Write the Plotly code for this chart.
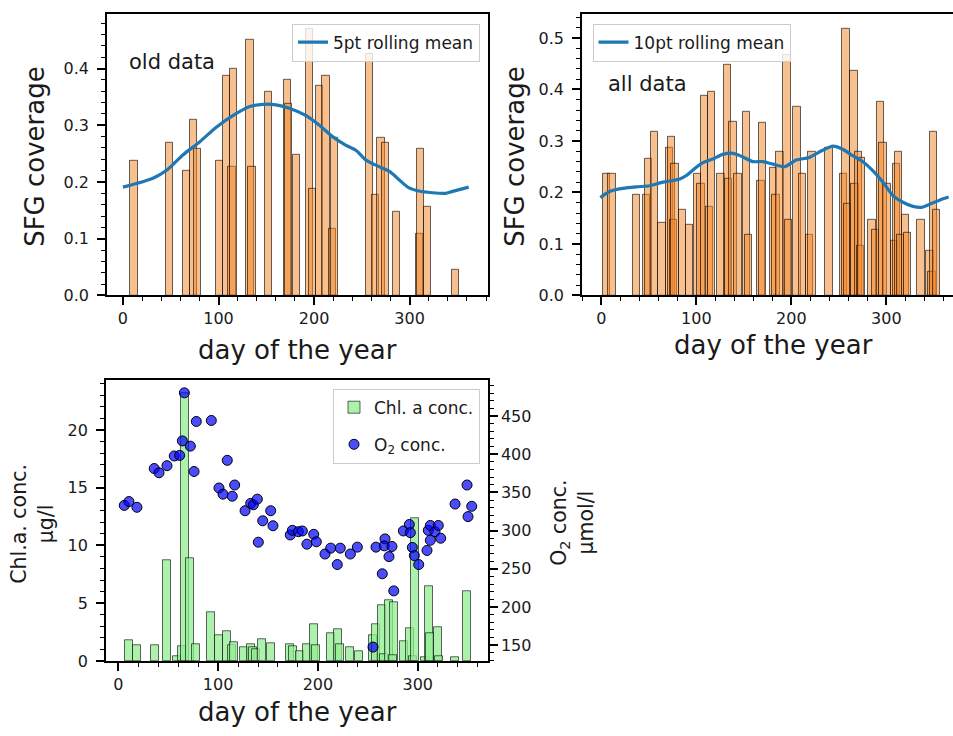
import plotly.graph_objects as go

W, H = 953, 736

# ---------------- data ----------------
old_days = [11.5, 49, 66.7, 74, 78, 100.7, 108.7, 114, 116, 133, 135, 152, 172, 173, 181.6,
            195, 198, 205.6, 212.5, 219, 221, 258, 264, 270, 275, 286, 310, 311, 319, 348]
old_sfg = [0.238, 0.269, 0.219, 0.309, 0.258, 0.238, 0.388, 0.227, 0.399, 0.45, 0.227, 0.359,
           0.38, 0.338, 0.248, 0.47, 0.188, 0.369, 0.388, 0.117, 0.278, 0.426, 0.178, 0.278,
           0.269, 0.148, 0.108, 0.258, 0.157, 0.046]

old_roll_days = [0, 21.5, 32, 46, 63, 80.5, 98, 115, 132.6, 146.5, 160, 174, 191.7, 205.6, 219.4,
                 233, 243.75, 254, 268, 278.5, 289, 299, 309.7, 323.6, 337.5, 344, 361.8]
old_roll = [0.191, 0.201, 0.207, 0.221, 0.248, 0.271, 0.297, 0.317, 0.333, 0.337, 0.336, 0.33,
            0.317, 0.3, 0.28, 0.265, 0.256, 0.239, 0.227, 0.219, 0.204, 0.19, 0.184, 0.181,
            0.18, 0.183, 0.191]

all_days = [5.6, 11.2, 36.8, 47.5, 49.5, 55.8, 64, 72, 73.7, 76, 77.5, 85.6, 93, 101, 105, 109,
            114, 116, 126, 133, 134, 138.6, 144, 152.6, 155, 168, 170,
            181, 184, 188, 195.4, 197, 206, 212, 219, 221.8, 239.6, 255, 257.5, 259, 266, 267,
            270.5, 273, 274, 285, 289, 293.7, 296.5, 300.7, 309, 311, 312.6, 315, 320, 322,
            336.5, 346, 348, 349.8, 353]
all_sfg = [0.237, 0.237, 0.196, 0.196, 0.266, 0.317, 0.141, 0.286, 0.308, 0.147, 0.256, 0.167,
           0.137, 0.237, 0.217, 0.387, 0.172, 0.396, 0.237, 0.448, 0.227, 0.337, 0.237, 0.356,
           0.117, 0.222, 0.336,
           0.247, 0.196, 0.278, 0.467, 0.147, 0.367, 0.237, 0.117, 0.278, 0.287, 0.237, 0.518,
           0.177, 0.437, 0.217, 0.278, 0.097, 0.267, 0.147, 0.127, 0.377, 0.297, 0.217, 0.106,
           0.256, 0.278, 0.117, 0.156, 0.121, 0.147, 0.087, 0.045, 0.317, 0.167]

all_roll_days = [-1, 8.8, 22.8, 36.8, 50.9, 65, 82.5, 89.5, 100, 107, 117.5, 128, 138.6, 149,
                 159.6, 170, 180.7, 193, 205, 219, 233, 244, 254, 265, 275, 286, 296.5, 307,
                 317.5, 328, 337, 345.6, 356, 365.6]
all_roll = [0.19, 0.202, 0.208, 0.211, 0.213, 0.22, 0.226, 0.233, 0.249, 0.258, 0.265, 0.274,
            0.276, 0.269, 0.26, 0.26, 0.255, 0.25, 0.263, 0.268, 0.282, 0.29, 0.284, 0.271,
            0.26, 0.242, 0.22, 0.194, 0.181, 0.173, 0.171, 0.177, 0.185, 0.191]

chl_days = [10.4, 18.7, 36.8, 49, 58.8, 63.5, 66.8, 71.5, 78.2, 92.9, 100.9, 108.9, 114, 116,
            126, 133, 135, 138, 144.3, 153, 172.3, 175, 182.4, 188.8, 195.8, 198, 213, 220.5,
            222, 232.5, 240.9, 254.9, 258, 264.2, 266, 271.5, 276.2, 275, 286, 292.3, 295,
            297.6, 307, 311.6, 312, 320.7, 321, 337.4, 349.4]
chl_conc = [1.77, 1.34, 1.34, 8.69, 0.43, 1.25, 23.2, 8.92, 1.43, 4.25, 2.2, 2.54, 1.34, 1.6,
            1.14, 1.48, 1.14, 1.05, 1.91, 1.57, 1.48, 1.23, 0.85, 1.4, 3.19, 1.34, 2.37, 2.71,
            1.4, 1.14, 0.85, 2.2, 3.19, 4.84, 0.55, 5.21, 5.04, 0.45, 1.68, 2.85, 0.4,
            12.39, 0.3, 6.47, 2.4, 2.9, 0.4, 0.3, 6.04]

o2_days = [6, 10.7, 18.7, 36, 40.8, 48.8, 56.1, 61.5, 64.2, 66.2, 72.2, 75.9, 78.2, 93.2, 109.2,
           100.9, 104.9, 114.2, 116.6, 127, 132.7, 135.3, 139.3, 144.7, 140.3, 152.7, 155,
           172.3, 174.4, 180.4, 184.4, 189, 195.8, 198.4, 207.1, 212.8, 219.4, 222.4, 232.5,
           239.5, 258.2, 264.5, 267.2, 266.5, 271.2, 274.2, 276, 255.2, 285.6, 291.6, 292.6,
           294.6, 296.6, 301, 309.3, 310.6, 312.6, 312.6, 317.3, 320.6, 323, 337.4, 349.4,
           354.1, 350.4]
o2_conc = [333, 338, 330.5, 381.3, 375.7, 385, 397.7, 398.5, 417.5, 480.4, 410.6, 377.4, 442.9,
           444.2, 392, 355.8, 347.7, 345, 359.7, 326, 335.6, 333.8, 341.2, 312.8, 284.8, 326,
           306.3, 294.3, 300.3, 298.6, 299.5, 282.2, 295.1, 285.3, 269.3, 277, 255.5, 277,
           269.3, 278.3, 278.3, 243.4, 289.1, 280, 265.9, 279.2, 221, 147.4, 299.5, 308,
           297.3, 277.9, 267.2, 255.5, 274, 300.3, 306.7, 287.3, 298.6, 306.7, 290, 334.8,
           359.7, 331.8, 318.3]

sfg_ticks = [0.0, 0.1, 0.2, 0.3, 0.4, 0.5]
day_ticks = [0, 100, 200, 300]
chl_ticks = [0, 5, 10, 15, 20]
o2_ticks = [150, 200, 250, 300, 350, 400, 450]

# ---------------- helpers ----------------
def px(x):
    return x / W

def py(y):
    return 1 - y / H

FONT = "DejaVu Sans"
TXT = "#1a1a1a"

def axis(**kw):
    d = dict(showline=True, linecolor="black", linewidth=1.5, ticks="outside", ticklen=8,
             tickwidth=1.5, tickcolor="black", showgrid=False, zeroline=False,
             tickfont=dict(size=16, color=TXT, family=FONT),
             minor=dict(ticks="outside", ticklen=4, tickwidth=1.2, tickcolor="black",
                        showgrid=False))
    mn = kw.pop("minor", {})
    d["minor"].update(mn)
    d.update(kw)
    return d

BAR_ORANGE = "rgba(243,135,40,0.52)"
BAR_EDGE = "rgba(0,0,0,0.6)"
LINE_BLUE = "#1f77b4"

fig = go.Figure()

fig.add_trace(go.Bar(x=old_days, y=old_sfg, width=7.6, xaxis="x", yaxis="y",
                     marker=dict(color=BAR_ORANGE, line=dict(color=BAR_EDGE, width=1)),
                     showlegend=False))
fig.add_trace(go.Scatter(x=old_roll_days, y=old_roll, mode="lines", xaxis="x", yaxis="y",
                         line=dict(color=LINE_BLUE, width=3.2, shape="spline", smoothing=0.8),
                         name="5pt rolling mean", legend="legend"))

fig.add_trace(go.Bar(x=all_days, y=all_sfg, width=7.6, xaxis="x2", yaxis="y2",
                     marker=dict(color=BAR_ORANGE, line=dict(color=BAR_EDGE, width=1)),
                     showlegend=False))
fig.add_trace(go.Scatter(x=all_roll_days, y=all_roll, mode="lines", xaxis="x2", yaxis="y2",
                         line=dict(color=LINE_BLUE, width=3.2, shape="spline", smoothing=0.8),
                         name="10pt rolling mean", legend="legend2"))

fig.add_trace(go.Bar(x=chl_days, y=chl_conc, width=8.2, xaxis="x3", yaxis="y3",
                     marker=dict(color="rgba(144,238,144,0.75)",
                                 line=dict(color=BAR_EDGE, width=1)),
                     name="Chl. a conc.", legend="legend3", legendgroup="a"))
fig.add_trace(go.Scatter(x=o2_days, y=o2_conc, mode="markers", xaxis="x3", yaxis="y4",
                         marker=dict(size=10, color="rgba(0,0,255,0.7)",
                                     line=dict(color="black", width=1)),
                         name="O<sub>2</sub> conc.", legend="legend3", legendgroup="b"))

top_dom = [py(299.5), py(14)]
bot_dom = [py(670), py(385.5)]

LEG = dict(bgcolor="rgba(255,255,255,0.8)", bordercolor="#cccccc", borderwidth=1,
           font=dict(size=17, family=FONT, color=TXT))

NB = "\u00a0"
sfg_text = [f"{v:.1f}" + NB for v in sfg_ticks]

fig.update_layout(
    width=W, height=H, margin=dict(l=0, r=0, t=0, b=0),
    paper_bgcolor="white", plot_bgcolor="white", barmode="overlay", bargap=0,
    font=dict(family=FONT, color=TXT),
    xaxis=axis(domain=[px(107), px(488)], range=[-16.7, 382], anchor="y", mirror=True,
               tickvals=day_ticks, minor=dict(dtick=20, tick0=0)),
    yaxis=axis(domain=top_dom, range=[0, 0.4965], anchor="x", mirror=True,
               tickvals=sfg_ticks[:5], ticktext=sfg_text[:5],
               minor=dict(dtick=0.02, tick0=0)),
    xaxis2=axis(domain=[px(582), 1.0], range=[-20.3, 370.2], anchor="y2", mirror=True,
                tickvals=day_ticks, minor=dict(dtick=20, tick0=0)),
    yaxis2=axis(domain=top_dom, range=[0, 0.547], anchor="x2", mirror=False,
                tickvals=sfg_ticks, ticktext=sfg_text,
                minor=dict(dtick=0.02, tick0=0)),
    xaxis3=axis(domain=[px(106), px(488)], range=[-12.3, 370.4], anchor="y3", mirror=True,
                tickvals=day_ticks, minor=dict(dtick=20, tick0=0)),
    yaxis3=axis(domain=bot_dom, range=[0, 24.3], anchor="x3", side="left",
                tickvals=chl_ticks, ticktext=[f"{v}" + NB for v in chl_ticks],
                minor=dict(dtick=1, tick0=0)),
    yaxis4=axis(range=[129.3, 496.9], anchor="x3", overlaying="y3", side="right",
                tickvals=o2_ticks, minor=dict(dtick=10, tick0=0)),
    legend=dict(x=px(480), xanchor="right", y=py(24), yanchor="top", **LEG),
    legend2=dict(x=px(592.5), xanchor="left", y=py(24), yanchor="top", **LEG),
    legend3=dict(x=px(480), xanchor="right", y=py(394), yanchor="top",
                 tracegroupgap=12, **LEG),
)

def ann(text, x, y, size, angle=0, xanchor="center"):
    fig.add_annotation(text=text, x=px(x), y=py(y), xref="paper", yref="paper",
                       showarrow=False, textangle=angle, xanchor=xanchor, yanchor="middle",
                       font=dict(size=size, family=FONT, color=TXT))

ann("SFG coverage", 35, 159, 26, -90)
ann("SFG coverage", 515, 159, 26, -90)
ann("day of the year", 297, 355, 26)
ann("day of the year", 773, 350, 26)
ann("day of the year", 297, 722, 26)
ann("old data", 127, 63, 21, xanchor="left")
ann("all data", 606, 85, 21, xanchor="left")
ann("Chl.a. conc.<br>µg/l", 33, 531, 20.5, -90)
ann("O<sub>2</sub> conc.<br>µmol/l", 573, 530, 20.5, -90)

fig.write_html("out.html")
